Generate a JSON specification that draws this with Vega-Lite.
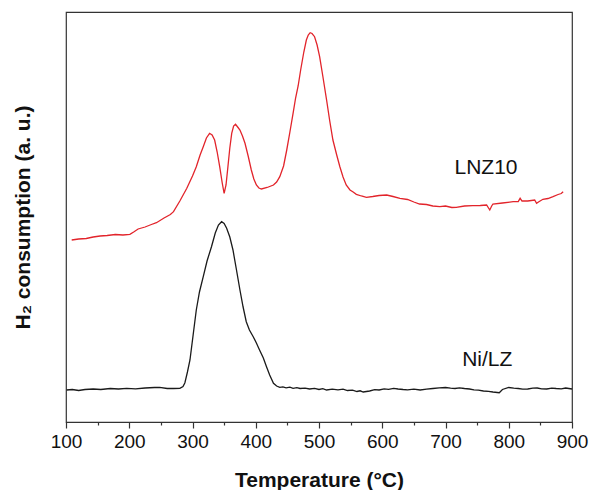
{
  "$schema": "https://vega.github.io/schema/vega-lite/v6.json",
  "width": 506,
  "height": 410,
  "autosize": "none",
  "padding": {"left": 66, "top": 12, "right": 18, "bottom": 68},
  "background": "white",
  "datasets": {
    "tpr": [
      {"series": "LNZ10", "T": 109, "v": 182},
      {"series": "LNZ10", "T": 120, "v": 183},
      {"series": "LNZ10", "T": 132, "v": 183.5},
      {"series": "LNZ10", "T": 143, "v": 185},
      {"series": "LNZ10", "T": 154, "v": 186},
      {"series": "LNZ10", "T": 165, "v": 186.5},
      {"series": "LNZ10", "T": 178, "v": 187.5},
      {"series": "LNZ10", "T": 190, "v": 187},
      {"series": "LNZ10", "T": 201, "v": 187.7},
      {"series": "LNZ10", "T": 207, "v": 190},
      {"series": "LNZ10", "T": 214, "v": 193},
      {"series": "LNZ10", "T": 225, "v": 195},
      {"series": "LNZ10", "T": 235, "v": 197.5},
      {"series": "LNZ10", "T": 243, "v": 199.3},
      {"series": "LNZ10", "T": 255, "v": 204},
      {"series": "LNZ10", "T": 265, "v": 207.5},
      {"series": "LNZ10", "T": 270, "v": 210.3},
      {"series": "LNZ10", "T": 280, "v": 221},
      {"series": "LNZ10", "T": 291, "v": 233.7},
      {"series": "LNZ10", "T": 300, "v": 246},
      {"series": "LNZ10", "T": 306, "v": 255.3},
      {"series": "LNZ10", "T": 312, "v": 267},
      {"series": "LNZ10", "T": 317, "v": 275.3},
      {"series": "LNZ10", "T": 322, "v": 284},
      {"series": "LNZ10", "T": 327, "v": 288.7},
      {"series": "LNZ10", "T": 331, "v": 287},
      {"series": "LNZ10", "T": 335, "v": 282},
      {"series": "LNZ10", "T": 339, "v": 270},
      {"series": "LNZ10", "T": 343, "v": 255.3},
      {"series": "LNZ10", "T": 347, "v": 239},
      {"series": "LNZ10", "T": 350, "v": 228.7},
      {"series": "LNZ10", "T": 353, "v": 237},
      {"series": "LNZ10", "T": 356, "v": 255.3},
      {"series": "LNZ10", "T": 359, "v": 274},
      {"series": "LNZ10", "T": 362, "v": 288.7},
      {"series": "LNZ10", "T": 365, "v": 296},
      {"series": "LNZ10", "T": 368, "v": 297.7},
      {"series": "LNZ10", "T": 372, "v": 294.5},
      {"series": "LNZ10", "T": 375, "v": 292},
      {"series": "LNZ10", "T": 379, "v": 286},
      {"series": "LNZ10", "T": 383, "v": 278.7},
      {"series": "LNZ10", "T": 388, "v": 266},
      {"series": "LNZ10", "T": 393, "v": 252},
      {"series": "LNZ10", "T": 397, "v": 243},
      {"series": "LNZ10", "T": 401, "v": 237},
      {"series": "LNZ10", "T": 405, "v": 234},
      {"series": "LNZ10", "T": 409, "v": 233},
      {"series": "LNZ10", "T": 418, "v": 234.5},
      {"series": "LNZ10", "T": 428, "v": 237},
      {"series": "LNZ10", "T": 433, "v": 240},
      {"series": "LNZ10", "T": 438, "v": 245.3},
      {"series": "LNZ10", "T": 444, "v": 256},
      {"series": "LNZ10", "T": 449, "v": 272},
      {"series": "LNZ10", "T": 454, "v": 290},
      {"series": "LNZ10", "T": 459, "v": 308.7},
      {"series": "LNZ10", "T": 463, "v": 324},
      {"series": "LNZ10", "T": 467, "v": 336},
      {"series": "LNZ10", "T": 471, "v": 352},
      {"series": "LNZ10", "T": 476, "v": 370},
      {"series": "LNZ10", "T": 480, "v": 382},
      {"series": "LNZ10", "T": 483, "v": 387},
      {"series": "LNZ10", "T": 486, "v": 389.3},
      {"series": "LNZ10", "T": 489, "v": 388.5},
      {"series": "LNZ10", "T": 493, "v": 385.3},
      {"series": "LNZ10", "T": 497, "v": 377},
      {"series": "LNZ10", "T": 501, "v": 365.3},
      {"series": "LNZ10", "T": 506, "v": 346},
      {"series": "LNZ10", "T": 512, "v": 322},
      {"series": "LNZ10", "T": 517, "v": 301},
      {"series": "LNZ10", "T": 522, "v": 282},
      {"series": "LNZ10", "T": 528, "v": 267},
      {"series": "LNZ10", "T": 533, "v": 255.3},
      {"series": "LNZ10", "T": 538, "v": 245},
      {"series": "LNZ10", "T": 543, "v": 237},
      {"series": "LNZ10", "T": 549, "v": 232},
      {"series": "LNZ10", "T": 554, "v": 230},
      {"series": "LNZ10", "T": 559, "v": 227.7},
      {"series": "LNZ10", "T": 567, "v": 226},
      {"series": "LNZ10", "T": 575, "v": 224.7},
      {"series": "LNZ10", "T": 585, "v": 225.5},
      {"series": "LNZ10", "T": 595, "v": 226.5},
      {"series": "LNZ10", "T": 607, "v": 227},
      {"series": "LNZ10", "T": 617, "v": 225.5},
      {"series": "LNZ10", "T": 628, "v": 223.7},
      {"series": "LNZ10", "T": 640, "v": 222.5},
      {"series": "LNZ10", "T": 650, "v": 220},
      {"series": "LNZ10", "T": 659, "v": 218},
      {"series": "LNZ10", "T": 670, "v": 217.5},
      {"series": "LNZ10", "T": 680, "v": 216},
      {"series": "LNZ10", "T": 691, "v": 215.3},
      {"series": "LNZ10", "T": 700, "v": 216},
      {"series": "LNZ10", "T": 710, "v": 214.5},
      {"series": "LNZ10", "T": 717, "v": 214.7},
      {"series": "LNZ10", "T": 730, "v": 216},
      {"series": "LNZ10", "T": 743, "v": 216.3},
      {"series": "LNZ10", "T": 755, "v": 216.5},
      {"series": "LNZ10", "T": 765, "v": 217},
      {"series": "LNZ10", "T": 768, "v": 214},
      {"series": "LNZ10", "T": 770, "v": 212},
      {"series": "LNZ10", "T": 773, "v": 216},
      {"series": "LNZ10", "T": 775, "v": 218},
      {"series": "LNZ10", "T": 790, "v": 219},
      {"series": "LNZ10", "T": 807, "v": 220.3},
      {"series": "LNZ10", "T": 815, "v": 220.5},
      {"series": "LNZ10", "T": 818, "v": 223.7},
      {"series": "LNZ10", "T": 821, "v": 221},
      {"series": "LNZ10", "T": 830, "v": 221},
      {"series": "LNZ10", "T": 841, "v": 222},
      {"series": "LNZ10", "T": 844, "v": 218.7},
      {"series": "LNZ10", "T": 847, "v": 220},
      {"series": "LNZ10", "T": 854, "v": 222.7},
      {"series": "LNZ10", "T": 862, "v": 223.5},
      {"series": "LNZ10", "T": 870, "v": 225.3},
      {"series": "LNZ10", "T": 878, "v": 227.5},
      {"series": "LNZ10", "T": 883, "v": 228.5},
      {"series": "LNZ10", "T": 886, "v": 230.3},
      {"series": "Ni/LZ", "T": 101, "v": 32},
      {"series": "Ni/LZ", "T": 110, "v": 32.5},
      {"series": "Ni/LZ", "T": 120, "v": 31.5},
      {"series": "Ni/LZ", "T": 130, "v": 32.5},
      {"series": "Ni/LZ", "T": 143, "v": 33},
      {"series": "Ni/LZ", "T": 155, "v": 32.5},
      {"series": "Ni/LZ", "T": 170, "v": 33.5},
      {"series": "Ni/LZ", "T": 183, "v": 33},
      {"series": "Ni/LZ", "T": 196, "v": 33.7},
      {"series": "Ni/LZ", "T": 210, "v": 33.2},
      {"series": "Ni/LZ", "T": 225, "v": 34},
      {"series": "Ni/LZ", "T": 240, "v": 34.5},
      {"series": "Ni/LZ", "T": 248, "v": 34.7},
      {"series": "Ni/LZ", "T": 260, "v": 33.5},
      {"series": "Ni/LZ", "T": 270, "v": 33.5},
      {"series": "Ni/LZ", "T": 280, "v": 33.7},
      {"series": "Ni/LZ", "T": 285, "v": 35.5},
      {"series": "Ni/LZ", "T": 288, "v": 39.3},
      {"series": "Ni/LZ", "T": 292, "v": 50},
      {"series": "Ni/LZ", "T": 296, "v": 62},
      {"series": "Ni/LZ", "T": 301, "v": 87},
      {"series": "Ni/LZ", "T": 306, "v": 112},
      {"series": "Ni/LZ", "T": 311, "v": 130},
      {"series": "Ni/LZ", "T": 317, "v": 145.3},
      {"series": "Ni/LZ", "T": 323, "v": 161},
      {"series": "Ni/LZ", "T": 330, "v": 175.3},
      {"series": "Ni/LZ", "T": 336, "v": 189},
      {"series": "Ni/LZ", "T": 341, "v": 197},
      {"series": "Ni/LZ", "T": 346, "v": 200.3},
      {"series": "Ni/LZ", "T": 350, "v": 198.5},
      {"series": "Ni/LZ", "T": 354, "v": 193.7},
      {"series": "Ni/LZ", "T": 359, "v": 185},
      {"series": "Ni/LZ", "T": 364, "v": 172},
      {"series": "Ni/LZ", "T": 369, "v": 154},
      {"series": "Ni/LZ", "T": 375, "v": 132},
      {"series": "Ni/LZ", "T": 380, "v": 115},
      {"series": "Ni/LZ", "T": 385, "v": 100.3},
      {"series": "Ni/LZ", "T": 390, "v": 92},
      {"series": "Ni/LZ", "T": 396, "v": 85.3},
      {"series": "Ni/LZ", "T": 401, "v": 79},
      {"series": "Ni/LZ", "T": 406, "v": 72},
      {"series": "Ni/LZ", "T": 412, "v": 64},
      {"series": "Ni/LZ", "T": 417, "v": 55.3},
      {"series": "Ni/LZ", "T": 422, "v": 47},
      {"series": "Ni/LZ", "T": 428, "v": 38.7},
      {"series": "Ni/LZ", "T": 433, "v": 36},
      {"series": "Ni/LZ", "T": 438, "v": 34.7},
      {"series": "Ni/LZ", "T": 443, "v": 35.2},
      {"series": "Ni/LZ", "T": 448, "v": 34.2},
      {"series": "Ni/LZ", "T": 454, "v": 34.8},
      {"series": "Ni/LZ", "T": 459, "v": 33.7},
      {"series": "Ni/LZ", "T": 465, "v": 34.3},
      {"series": "Ni/LZ", "T": 470, "v": 33.5},
      {"series": "Ni/LZ", "T": 478, "v": 33.9},
      {"series": "Ni/LZ", "T": 485, "v": 33},
      {"series": "Ni/LZ", "T": 493, "v": 33.6},
      {"series": "Ni/LZ", "T": 500, "v": 32.5},
      {"series": "Ni/LZ", "T": 506, "v": 33.3},
      {"series": "Ni/LZ", "T": 512, "v": 32},
      {"series": "Ni/LZ", "T": 521, "v": 32.8},
      {"series": "Ni/LZ", "T": 530, "v": 32.2},
      {"series": "Ni/LZ", "T": 538, "v": 32.9},
      {"series": "Ni/LZ", "T": 545, "v": 31.5},
      {"series": "Ni/LZ", "T": 553, "v": 31.8},
      {"series": "Ni/LZ", "T": 560, "v": 30.5},
      {"series": "Ni/LZ", "T": 565, "v": 31.2},
      {"series": "Ni/LZ", "T": 570, "v": 30},
      {"series": "Ni/LZ", "T": 580, "v": 31},
      {"series": "Ni/LZ", "T": 588, "v": 32.4},
      {"series": "Ni/LZ", "T": 595, "v": 32},
      {"series": "Ni/LZ", "T": 603, "v": 33.1},
      {"series": "Ni/LZ", "T": 610, "v": 32.7},
      {"series": "Ni/LZ", "T": 618, "v": 33.6},
      {"series": "Ni/LZ", "T": 625, "v": 33},
      {"series": "Ni/LZ", "T": 633, "v": 32.5},
      {"series": "Ni/LZ", "T": 640, "v": 32.2},
      {"series": "Ni/LZ", "T": 650, "v": 32.9},
      {"series": "Ni/LZ", "T": 660, "v": 32},
      {"series": "Ni/LZ", "T": 670, "v": 32.8},
      {"series": "Ni/LZ", "T": 680, "v": 33.5},
      {"series": "Ni/LZ", "T": 690, "v": 34.1},
      {"series": "Ni/LZ", "T": 700, "v": 34.5},
      {"series": "Ni/LZ", "T": 708, "v": 33.8},
      {"series": "Ni/LZ", "T": 715, "v": 33.5},
      {"series": "Ni/LZ", "T": 722, "v": 34.2},
      {"series": "Ni/LZ", "T": 730, "v": 33.5},
      {"series": "Ni/LZ", "T": 738, "v": 33.0},
      {"series": "Ni/LZ", "T": 745, "v": 32.2},
      {"series": "Ni/LZ", "T": 752, "v": 31.8},
      {"series": "Ni/LZ", "T": 760, "v": 31},
      {"series": "Ni/LZ", "T": 768, "v": 30.6},
      {"series": "Ni/LZ", "T": 775, "v": 30},
      {"series": "Ni/LZ", "T": 785, "v": 29.3},
      {"series": "Ni/LZ", "T": 790, "v": 32.5},
      {"series": "Ni/LZ", "T": 800, "v": 34.5},
      {"series": "Ni/LZ", "T": 808, "v": 33.9},
      {"series": "Ni/LZ", "T": 815, "v": 33.5},
      {"series": "Ni/LZ", "T": 822, "v": 32.8},
      {"series": "Ni/LZ", "T": 830, "v": 33},
      {"series": "Ni/LZ", "T": 838, "v": 33.8},
      {"series": "Ni/LZ", "T": 845, "v": 34},
      {"series": "Ni/LZ", "T": 852, "v": 33.2},
      {"series": "Ni/LZ", "T": 860, "v": 33},
      {"series": "Ni/LZ", "T": 868, "v": 33.9},
      {"series": "Ni/LZ", "T": 875, "v": 33.5},
      {"series": "Ni/LZ", "T": 883, "v": 33.2},
      {"series": "Ni/LZ", "T": 890, "v": 34},
      {"series": "Ni/LZ", "T": 900, "v": 33}
    ],
    "labels": [
      {"label": "LNZ10", "T": 764, "v": 254.5},
      {"label": "Ni/LZ", "T": 766, "v": 62}
    ]
  },
  "layer": [
    {
      "data": {"name": "tpr"},
      "mark": {"type": "line", "strokeWidth": 1.3},
      "encoding": {
        "x": {
          "field": "T", "type": "quantitative",
          "scale": {"domain": [100, 900], "nice": false, "zero": false},
          "axis": {
            "orient": "bottom",
            "values": [100, 200, 300, 400, 500, 600, 700, 800, 900],
            "title": "Temperature (°C)",
            "grid": false, "tickSize": 6, "labelPadding": 4, "titlePadding": 18,
            "labelFlush": false, "labelOverlap": false, "labelBound": false
          }
        },
        "y": {
          "field": "v", "type": "quantitative",
          "scale": {"domain": [0, 410], "nice": false},
          "axis": {"title": "H₂ consumption (a. u.)", "labels": false, "ticks": false, "domain": false, "grid": false, "titlePadding": 33}
        },
        "color": {
          "field": "series", "type": "nominal",
          "scale": {"domain": ["LNZ10", "Ni/LZ"], "range": ["#e2242b", "#1a1a1a"]},
          "legend": null
        }
      }
    },
    {
      "data": {"name": "labels"},
      "mark": {"type": "text", "fontSize": 21, "font": "Liberation Sans", "color": "#111111", "align": "center", "baseline": "middle"},
      "encoding": {
        "x": {
          "field": "T", "type": "quantitative",
          "axis": {
            "orient": "bottom",
            "values": [150, 250, 350, 450, 550, 650, 750, 850],
            "labels": false, "domain": false, "grid": false, "tickSize": 3, "title": null
          }
        },
        "y": {
          "field": "v", "type": "quantitative",
          "axis": {"title": "H₂ consumption (a. u.)", "labels": false, "ticks": false, "domain": false, "grid": false, "titlePadding": 33}
        },
        "text": {"field": "label", "type": "nominal"}
      }
    }
  ],
  "resolve": {"axis": {"x": "independent"}},
  "config": {
    "view": {"stroke": "#333333", "strokeWidth": 1.2},
    "axis": {
      "labelFont": "Liberation Sans", "labelFontSize": 19, "labelColor": "#111111",
      "titleFont": "Liberation Sans", "titleFontSize": 21, "titleFontWeight": "bold", "titleColor": "#111111",
      "domainColor": "#333333", "domainWidth": 1.2, "tickColor": "#333333", "tickWidth": 1.2
    }
  }
}
